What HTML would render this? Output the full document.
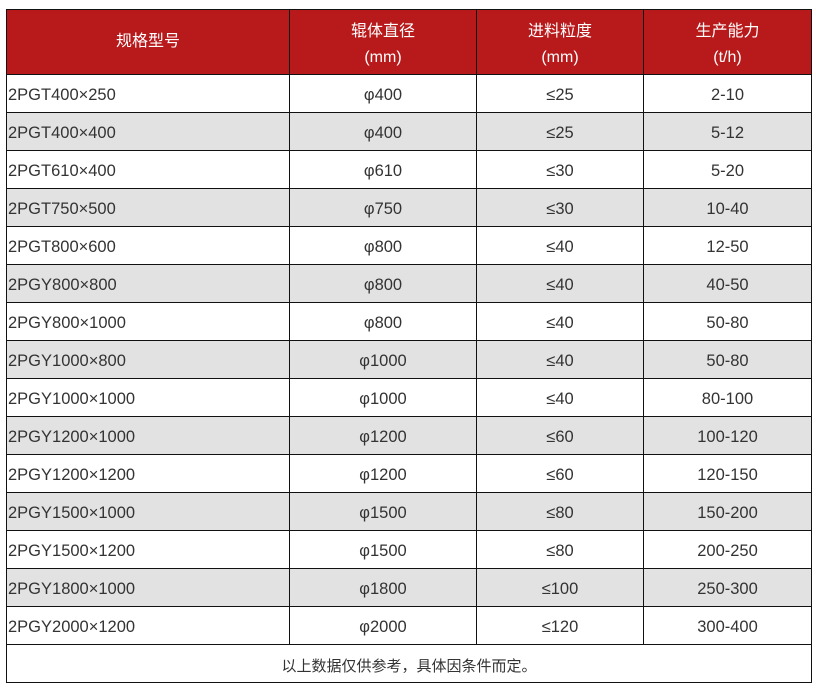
<!DOCTYPE html>
<html><head><meta charset="utf-8"><style>
html,body{margin:0;padding:0;background:#fff;width:816px;height:689px;overflow:hidden}
table{position:absolute;left:6px;top:9px;border-collapse:collapse;table-layout:fixed;width:805px;font-family:"Liberation Sans","Noto Sans CJK SC",sans-serif;font-size:16.5px;color:#333}
td,th{border:1px solid #111;padding:3px 0 0 0;height:38px;text-align:center;box-sizing:border-box}
th{background:#b8191b;color:#fff;font-weight:normal;height:65px;line-height:26px;font-size:16px;padding-top:5px}
td.l{text-align:left;padding-left:1px}
tr.g td{background:#e2e2e2}
td.f{font-size:15px;height:38px}
</style></head><body>
<table>
<colgroup><col style="width:283px"><col style="width:187px"><col style="width:167px"><col style="width:168px"></colgroup>
<tr><th style="padding-top:0">规格型号</th><th>辊体直径<br>(mm)</th><th>进料粒度<br>(mm)</th><th>生产能力<br>(t/h)</th></tr>
<tr><td class="l">2PGT400×250</td><td>φ400</td><td>≤25</td><td>2-10</td></tr>
<tr class="g"><td class="l">2PGT400×400</td><td>φ400</td><td>≤25</td><td>5-12</td></tr>
<tr><td class="l">2PGT610×400</td><td>φ610</td><td>≤30</td><td>5-20</td></tr>
<tr class="g"><td class="l">2PGT750×500</td><td>φ750</td><td>≤30</td><td>10-40</td></tr>
<tr><td class="l">2PGT800×600</td><td>φ800</td><td>≤40</td><td>12-50</td></tr>
<tr class="g"><td class="l">2PGY800×800</td><td>φ800</td><td>≤40</td><td>40-50</td></tr>
<tr><td class="l">2PGY800×1000</td><td>φ800</td><td>≤40</td><td>50-80</td></tr>
<tr class="g"><td class="l">2PGY1000×800</td><td>φ1000</td><td>≤40</td><td>50-80</td></tr>
<tr><td class="l">2PGY1000×1000</td><td>φ1000</td><td>≤40</td><td>80-100</td></tr>
<tr class="g"><td class="l">2PGY1200×1000</td><td>φ1200</td><td>≤60</td><td>100-120</td></tr>
<tr><td class="l">2PGY1200×1200</td><td>φ1200</td><td>≤60</td><td>120-150</td></tr>
<tr class="g"><td class="l">2PGY1500×1000</td><td>φ1500</td><td>≤80</td><td>150-200</td></tr>
<tr><td class="l">2PGY1500×1200</td><td>φ1500</td><td>≤80</td><td>200-250</td></tr>
<tr class="g"><td class="l">2PGY1800×1000</td><td>φ1800</td><td>≤100</td><td>250-300</td></tr>
<tr><td class="l">2PGY2000×1200</td><td>φ2000</td><td>≤120</td><td>300-400</td></tr>
<tr><td class="f" colspan="4">以上数据仅供参考，具体因条件而定。</td></tr>
</table>
</body></html>
